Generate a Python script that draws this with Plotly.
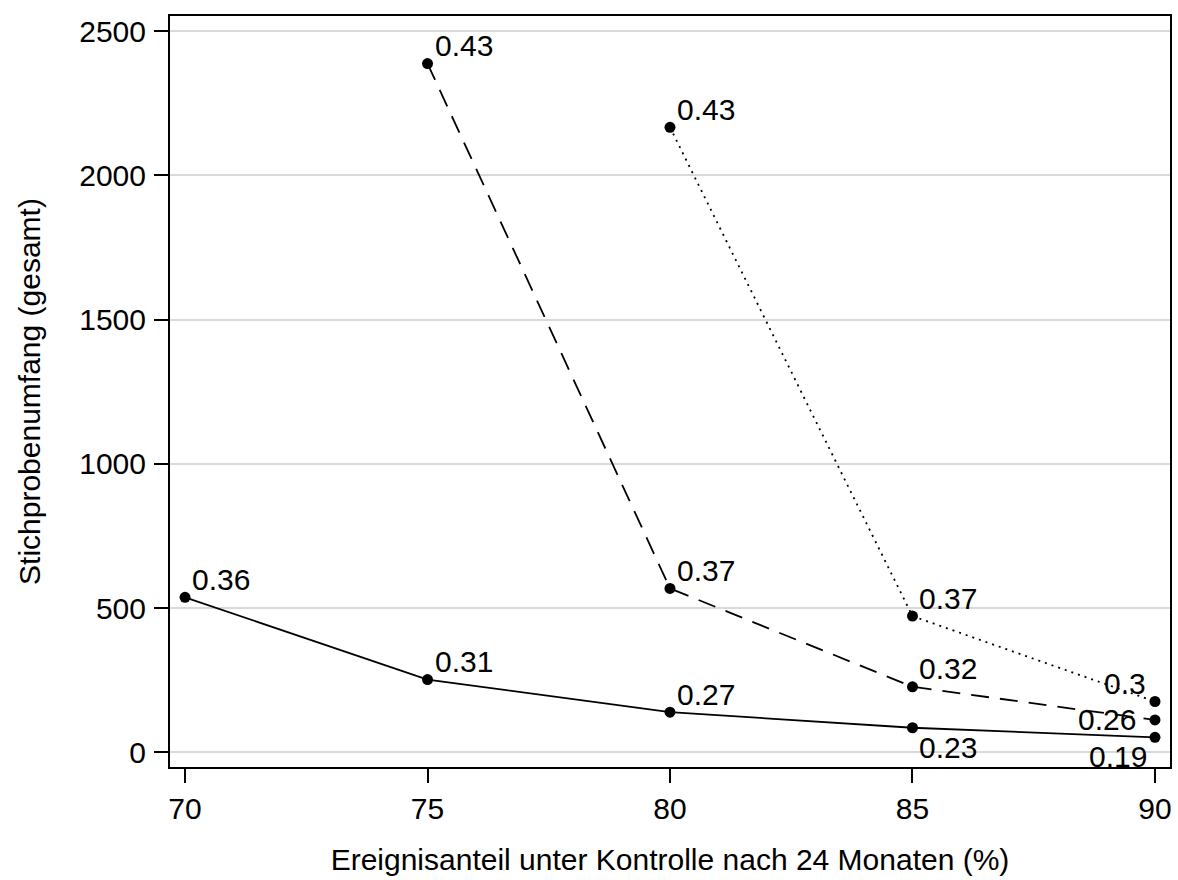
import plotly.graph_objects as go

# Data
x_solid = [70, 75, 80, 85, 90]
y_solid = [537, 252, 139, 85, 52]
lab_solid = ["0.36", "0.31", "0.27", "0.23", "0.19"]

x_dash = [75, 80, 85, 90]
y_dash = [2387, 568, 227, 112]
lab_dash = ["0.43", "0.37", "0.32", "0.26"]

x_dot = [80, 85, 90]
y_dot = [2166, 472, 176]
lab_dot = ["0.43", "0.37", "0.3"]

# label placement per point: (xanchor, xshift, yshift)
pos_solid = [("left", 5, 18), ("left", 5, 18), ("left", 5, 18), ("left", 5, -20), ("right", -6, -19)]
pos_dash = [("left", 5, 18), ("left", 5, 18), ("left", 5, 18), ("right", -17, 0)]
pos_dot = [("left", 5, 18), ("left", 5, 18), ("right", -7, 18)]

x_ticks = [70, 75, 80, 85, 90]
y_ticks = [0, 500, 1000, 1500, 2000, 2500]

FONT = "Liberation Sans, Arial, sans-serif"
FS = 30

fig = go.Figure()
for xs, ys, dash in [(x_solid, y_solid, "solid"),
                     (x_dash, y_dash, "18px,11px"),
                     (x_dot, y_dot, "2px,5px")]:
    fig.add_trace(go.Scatter(
        x=xs, y=ys, mode="lines+markers",
        line=dict(color="black", width=1.8, dash=dash),
        marker=dict(color="black", size=11),
        showlegend=False, cliponaxis=False))

annotations = []
for xs, ys, labs, pos in [(x_solid, y_solid, lab_solid, pos_solid),
                          (x_dash, y_dash, lab_dash, pos_dash),
                          (x_dot, y_dot, lab_dot, pos_dot)]:
    for xv, yv, lb, (xa, xsft, ysft) in zip(xs, ys, labs, pos):
        annotations.append(dict(
            x=xv, y=yv, xref="x", yref="y", text=lb, showarrow=False,
            xanchor=xa, yanchor="middle", xshift=xsft, yshift=ysft,
            font=dict(family=FONT, size=FS, color="black")))

fig.update_layout(
    width=1178, height=880,
    margin=dict(l=170, r=6, t=16, b=113),
    paper_bgcolor="white", plot_bgcolor="white",
    font=dict(family=FONT, size=FS, color="black"),
    annotations=annotations,
    xaxis=dict(
        range=[69.69, 90.31], tickvals=x_ticks, ticktext=[str(v) for v in x_ticks],
        showgrid=False, zeroline=False,
        showline=True, linecolor="black", linewidth=2, mirror=True,
        ticks="outside", ticklen=14, tickwidth=1.5, tickcolor="black",
        ticklabelstandoff=0,
        tickfont=dict(family=FONT, size=FS, color="black"),
        title=dict(text="Ereignisanteil unter Kontrolle nach 24 Monaten (%)",
                   font=dict(family=FONT, size=FS, color="black"), standoff=25),
    ),
    yaxis=dict(
        range=[-51, 2552], tickvals=y_ticks, ticktext=[str(v) for v in y_ticks],
        showgrid=True, gridcolor="#d9d9d9", gridwidth=1.5, zeroline=False,
        showline=True, linecolor="black", linewidth=2, mirror=True,
        ticks="outside", ticklen=14, tickwidth=1.5, tickcolor="black",
        ticklabelstandoff=2,
        tickfont=dict(family=FONT, size=FS, color="black"),
        title=dict(text="Stichprobenumfang (gesamt)",
                   font=dict(family=FONT, size=FS, color="black"), standoff=30),
    ),
)

fig.write_html("out.html", config={"displayModeBar": False},
               post_script="document.body.style.margin='0';document.body.style.overflow='hidden';")
